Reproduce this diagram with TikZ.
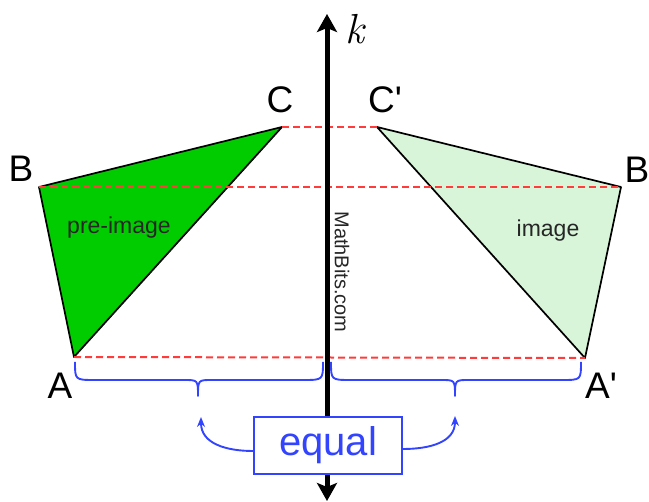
\documentclass[tikz,border=0pt]{standalone}
\usepackage{fontspec}
\setmainfont{Liberation Sans}
\newfontfamily\kfont{Latin Modern Roman}
\usetikzlibrary{arrows.meta}
\definecolor{dgreen}{HTML}{00CC00}
\definecolor{lgreen}{HTML}{D9F5D9}
\definecolor{rdash}{HTML}{FF3B3B}
\definecolor{eqblue}{HTML}{3344FF}
\begin{document}
\begin{tikzpicture}[x=1pt,y=-1pt,
  tri/.style={draw=black,line width=1.7pt,line join=round},
  mirrorline/.style={draw=rdash,line width=2pt,dash pattern=on 7pt off 4pt},
  vlabel/.style={font=\fontsize{37}{37}\selectfont,inner sep=0pt},
  tlabel/.style={font=\fontsize{23}{23}\selectfont,text=black!85,inner sep=0pt},
  bracestyle/.style={draw=eqblue,line width=1.9pt,line join=round},
  eqarrow/.style={draw=eqblue,line width=1.9pt,-{Stealth[length=10pt,width=8pt]}},
  axisstyle/.style={line width=5pt,{Stealth[length=18pt,width=20pt,inset=4pt]}-{Stealth[length=18pt,width=20pt,inset=4pt]}}
]
\useasboundingbox (0,0) rectangle (649,502);
% vertices
\coordinate (A) at (74,357);
\coordinate (B) at (39,187);
\coordinate (C) at (282,127);
\coordinate (A2) at (585,358);
\coordinate (B2) at (621,187);
\coordinate (C2) at (377,127);
% triangles
\filldraw[tri,fill=dgreen] (A) -- (B) -- (C) -- cycle;
\filldraw[tri,fill=lgreen] (A2) -- (B2) -- (C2) -- cycle;
% dashed lines
\draw[mirrorline] (C) -- (C2);
\draw[mirrorline] (B) -- (B2);
\draw[mirrorline] (A) -- (A2);
% axis
\coordinate (top) at (327,14);
\coordinate (bot) at (327,501);
\draw[axisstyle] (bot) -- (top);
\node[font=\kfont\itshape\fontsize{42}{42}\selectfont,inner sep=0pt] (k) at (355,29) {k};
\node[font=\fontsize{20}{20}\selectfont,text=black!85,rotate=-90,inner sep=0pt] (mb) at (342,272) {MathBits.com};
% labels
\node[vlabel] (lA) at (60,386) {A};
\node[vlabel] (lB) at (21,169) {B};
\node[vlabel] (lC) at (280,100) {C};
\node[vlabel] (lA2) at (601,386) {A\textquotesingle};
\node[vlabel] (lB2) at (637,170) {B};
\node[vlabel] (lC2) at (385,100) {C\textquotesingle};
\node[tlabel] (pre) at (119,228) {pre-image};
\node[tlabel] (img) at (548,231) {image};
% braces
\draw[bracestyle] (75,362) .. controls (75,380) .. (95,380) -- (184,380)
  .. controls (198,380) .. (198,396) .. controls (198,380) .. (212,380) -- (303,380)
  .. controls (323,380) .. (323,362);
\draw[bracestyle] (331,362) .. controls (331,380) .. (351,380) -- (441,380)
  .. controls (455,380) .. (455,396) .. controls (455,380) .. (469,380) -- (562,380)
  .. controls (581,380) .. (581,362);
% equal box
\node[draw=eqblue,line width=1.9pt,fill=white,text=eqblue,minimum width=148pt,minimum height=57pt,inner sep=0pt,font=\fontsize{40}{40}\selectfont] (eq) at (328,445.5) {equal};
\coordinate (tipL) at (201,417);
\coordinate (tipR) at (455,416);
\draw[eqarrow] (eq.west |- 0,451) to[out=180,in=-90,looseness=1.1] (tipL);
\draw[eqarrow] (eq.east |- 0,449) to[out=0,in=-90,looseness=1.1] (tipR);
\end{tikzpicture}
\end{document}
